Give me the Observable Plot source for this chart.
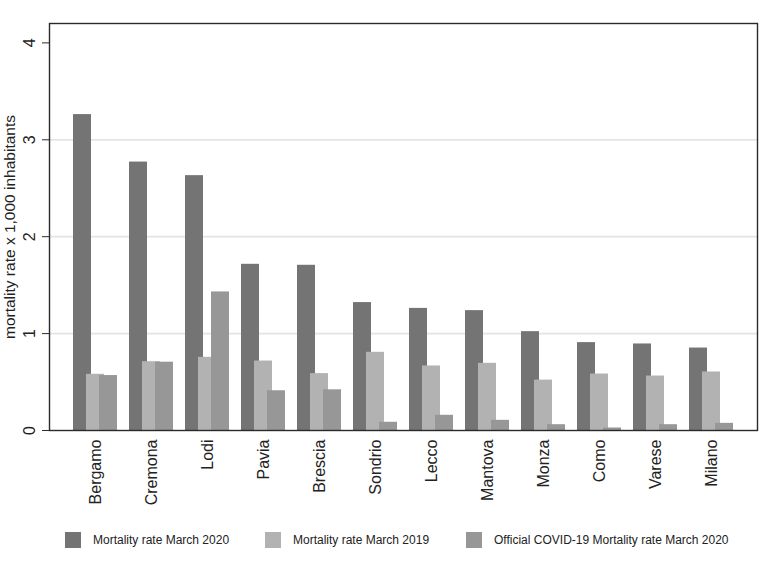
<!DOCTYPE html>
<html>
<head>
<meta charset="utf-8">
<script src="https://cdn.jsdelivr.net/npm/d3@7"></script>
<script src="https://cdn.jsdelivr.net/npm/@observablehq/plot@0.6"></script>
<style>
  body { margin: 0; background: #fff; font-family: "Liberation Sans", Arial, Helvetica, sans-serif; }
  #legend { position: relative; height: 16px; margin-top: 12px; }
  .item { position: absolute; top: 0; display: flex; align-items: center; font-size: 12px; color: #222; }
  .sw { width: 16px; height: 16px; margin-right: 12px; }
</style>
</head>
<body>
<div id="chart"></div>
<div id="legend"></div>
<script>
const cities = ["Bergamo", "Cremona", "Lodi", "Pavia", "Brescia", "Sondrio", "Lecco", "Mantova", "Monza", "Como", "Varese", "Milano"];
const mortality2020 = [3.26, 2.77, 2.63, 1.715, 1.705, 1.32, 1.26, 1.237, 1.02, 0.907, 0.893, 0.851];
const mortality2019 = [0.58, 0.71, 0.755, 0.717, 0.587, 0.807, 0.666, 0.693, 0.52, 0.583, 0.562, 0.604];
const covid2020 = [0.567, 0.705, 1.43, 0.41, 0.42, 0.085, 0.157, 0.105, 0.06, 0.026, 0.06, 0.074];
const seriesNames = ["Mortality rate March 2020", "Mortality rate March 2019", "Official COVID-19 Mortality rate March 2020"];
const seriesColors = ["#747474", "#b2b2b2", "#979797"];
const yTicks = [0, 1, 2, 3, 4];
const gridTicks = [1, 2, 3];
const yLabel = "mortality rate x 1,000 inhabitants";

const seriesValues = [mortality2020, mortality2019, covid2020];
const offsets = [-13, 0, 13];
const tables = seriesValues.map((vals, s) => cities.map((c, i) => ({city: c, value: vals[i], series: seriesNames[s]})));

const plot = Plot.plot({
  width: 781,
  height: 520,
  marginTop: 23,
  marginLeft: 49,
  marginRight: 24,
  marginBottom: 90,
  style: {fontFamily: '"Liberation Sans", Arial, Helvetica, sans-serif', color: "#222"},
  x: {type: "band", domain: cities, paddingInner: 0, paddingOuter: 0.32, label: null},
  y: {domain: [0, 4.2], label: null},
  marks: [
    Plot.ruleY(gridTicks, {stroke: "#e4e4e4", strokeWidth: 1.8}),
    ...tables.map((t, s) => Plot.barY(t, {
      x: "city", y: "value", fill: seriesColors[s],
      insetLeft: 19, insetRight: 19, dx: offsets[s]
    })),
    Plot.frame({stroke: "#2a2a2a", strokeWidth: 1.4}),
    Plot.axisY({
      ticks: yTicks, tickFormat: d => String(d), tickSize: 7, tickPadding: 8, tickRotate: -90,
      fontSize: 16, label: null, stroke: "#2a2a2a"
    }),
    Plot.axisY({
      ticks: [], label: yLabel, labelAnchor: "center", labelOffset: 46, labelArrow: "none", fontSize: 15.5
    }),
    Plot.axisX({tickRotate: -90, tickSize: 0, tickPadding: 9, fontSize: 16, label: null})
  ]
});
document.getElementById("chart").appendChild(plot);

const legend = document.getElementById("legend");
const lefts = [65, 265, 466];
seriesNames.forEach((name, i) => {
  const item = document.createElement("div");
  item.className = "item";
  item.style.left = lefts[i] + "px";
  const sw = document.createElement("div");
  sw.className = "sw";
  sw.style.background = seriesColors[i];
  const tx = document.createElement("span");
  tx.textContent = name;
  item.appendChild(sw);
  item.appendChild(tx);
  legend.appendChild(item);
});
</script>
</body>
</html>
